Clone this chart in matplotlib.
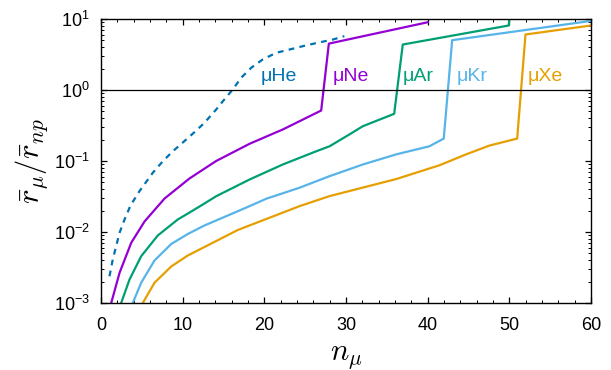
import matplotlib
matplotlib.use("Agg")
import matplotlib.pyplot as plt
from matplotlib.ticker import LogLocator, MultipleLocator

plt.rcParams['font.family'] = ['Liberation Sans', 'DejaVu Sans']
plt.rcParams['mathtext.fontset'] = 'cm'

he_x = [1.04, 1.44, 2.27, 2.88, 3.61, 4.71, 6.34, 7.57, 8.79, 10.22, 11.45, 12.67, 14.1,
        15.1, 16.14, 17.17, 18.4, 19.8, 21.45, 23.1, 24.7, 26.5, 28.4, 29.8]
he_y = [0.00238, 0.0041, 0.00975, 0.0150, 0.0236, 0.0376, 0.0682, 0.0993, 0.137, 0.191,
        0.255, 0.345, 0.531, 0.735, 1.02, 1.49, 2.06, 2.69, 3.34, 3.72, 4.14, 4.62, 5.14, 5.73]

ne_x = [1.25, 2.27, 3.70, 5.33, 7.78, 10.84, 14.1, 18.2, 22.26, 26.96, 27.9, 40.0]
ne_y = [0.001, 0.00266, 0.00705, 0.01406, 0.0296, 0.0568, 0.100, 0.175, 0.278, 0.514, 4.5, 9.0]

ar_x = [2.47, 3.49, 4.92, 6.95, 9.4, 10.84, 12.67, 14.1, 18.18, 22.26, 26.35, 27.98, 30.4,
        32.06, 35.9, 36.95, 49.93, 50.1]
ar_y = [0.001, 0.00214, 0.00456, 0.00893, 0.015, 0.0188, 0.0252, 0.0319, 0.0548, 0.0893,
        0.137, 0.161, 0.236, 0.309, 0.462, 4.37, 8.1, 15.0]

kr_x = [3.89, 4.92, 6.55, 8.6, 10.63, 12.67, 15.33, 18.18, 20.23, 24.3, 27.98, 32.06,
        36.15, 40.2, 41.97, 43.0, 60.0]
kr_y = [0.001, 0.00193, 0.00397, 0.00678, 0.00938, 0.01236, 0.0167, 0.0231, 0.0294, 0.042,
        0.0611, 0.0893, 0.124, 0.161, 0.207, 5.03, 9.4]

xe_x = [5.12, 6.55, 8.6, 10.63, 12.67, 16.75, 18.18, 24.3, 26.55, 27.98, 30.43, 36.15,
        41.45, 44.7, 47.57, 50.96, 51.98, 60.0]
xe_y = [0.001, 0.00193, 0.00327, 0.00467, 0.00615, 0.01067, 0.01236, 0.0231, 0.0282,
        0.032, 0.0378, 0.0557, 0.0871, 0.124, 0.165, 0.207, 6.05, 8.1]

labels = ["\u03bcHe", "\u03bcNe", "\u03bcAr", "\u03bcKr", "\u03bcXe"]
label_x = [19.6, 28.4, 36.95, 43.5, 52.3]
label_y = 1.56

colors = ["#0072B2", "#9400D3", "#009E73", "#56B4E9", "#E69F00"]

fig = plt.figure(figsize=(6.11, 3.70), dpi=100)
ax = fig.add_axes([101/611, 1-303/370, 490/611, 284/370])

lw = 1.6
ax.plot(he_x, he_y, color=colors[0], lw=lw, ls=(0, (2.6, 2.4)))
ax.plot(ne_x, ne_y, color=colors[1], lw=lw)
ax.plot(ar_x, ar_y, color=colors[2], lw=lw)
ax.plot(kr_x, kr_y, color=colors[3], lw=lw)
ax.plot(xe_x, xe_y, color=colors[4], lw=lw)
ax.axhline(1.0, color='black', lw=0.9)

for t, lx, c in zip(labels, label_x, colors):
    ax.text(lx, label_y, t, color=c, fontsize=14, ha='left', va='center')

ax.set_yscale('log')
ax.set_xlim(0, 60)
ax.set_ylim(1e-3, 1e1)
ax.xaxis.set_major_locator(MultipleLocator(10))
ax.xaxis.set_minor_locator(MultipleLocator(2))
ax.yaxis.set_major_locator(LogLocator(base=10, numticks=10))
ax.yaxis.set_minor_locator(LogLocator(base=10, subs=range(2, 10), numticks=20))
ax.tick_params(which='both', direction='in', top=True, right=True, labelsize=13)
ax.tick_params(which='major', length=4.5, width=0.9)
ax.tick_params(which='minor', length=2.5, width=0.7)
ax.tick_params(axis='x', which='major', pad=10)
ax.tick_params(axis='y', which='major', pad=8)
for s in ax.spines.values():
    s.set_linewidth(1.0)

ax.set_xlabel(r'$n_\mu$', fontsize=22, labelpad=5)
ax.set_ylabel(r'$\bar{r}_\mu/\bar{r}_{np}$', fontsize=22, labelpad=3)

fig.savefig('out.png', dpi=100)
